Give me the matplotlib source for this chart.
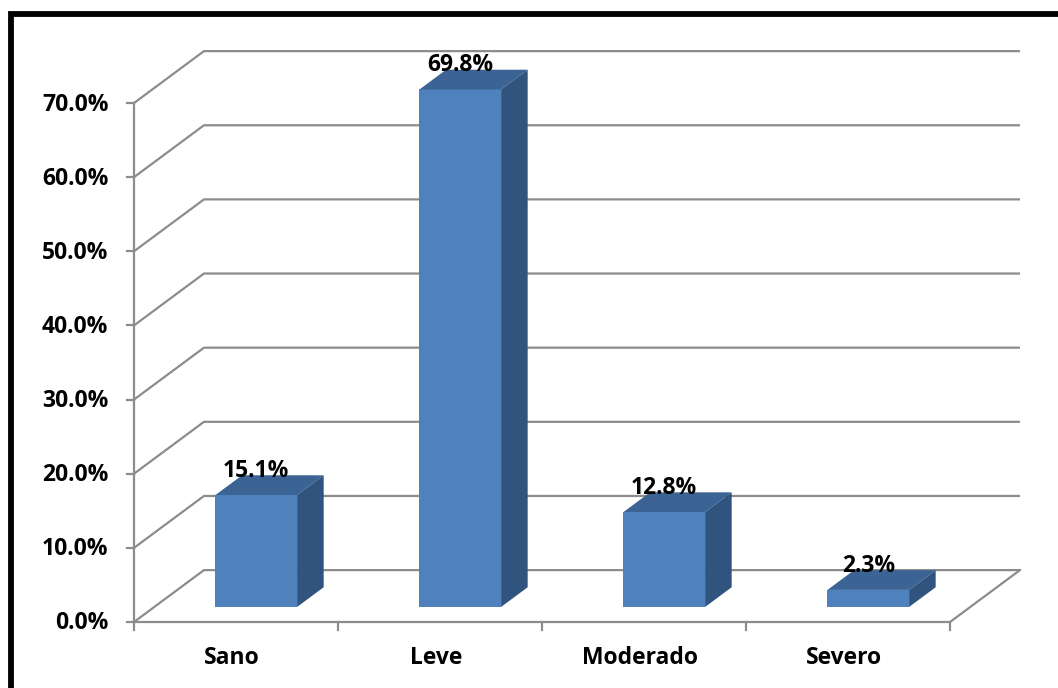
import matplotlib.pyplot as plt
from matplotlib.patches import Polygon
from matplotlib.lines import Line2D

categorias = ['Sano', 'Leve', 'Moderado', 'Severo']
porcentajes = [15.1, 69.8, 12.8, 2.3]
ticks_y = [0, 10, 20, 30, 40, 50, 60, 70]

# fake 3D: offset of the back wall in data units (x in categories, y in %)
DX, DY = 0.343, 7.0
# bars sit between these depth fractions
D0, D1 = 0.29, 0.67
ANCHO = 0.40

frente = '#4F81BD'
arriba = '#3B6393'
lado = '#31547F'
gris = '#8C8C8C'

plt.rcParams['font.family'] = ['Open Sans', 'DejaVu Sans']
FS = 16.5

fig = plt.figure(figsize=(10.58, 6.88), dpi=100)
ax = fig.add_axes([0, 0, 1, 1])
ax.set_xlim(-134 / 204, (1058 - 134) / 204)
ax.set_ylim(-66 / 7.414, (688 - 66) / 7.414)
ax.axis('off')

n = len(categorias)

# back wall gridlines + left wall diagonals
for v in ticks_y:
    ax.plot([0, DX, n + DX], [v, v + DY, v + DY], color=gris, lw=1.6,
            zorder=1, solid_capstyle='butt')
    ax.plot([-0.035, 0], [v, v], color=gris, lw=1.6, zorder=1)
    ax.text(-0.125, v - 0.2, f'{v:.1f}%', ha='right', va='center',
            fontsize=FS, fontweight='bold')

# floor edges and front axis
ax.plot([0, 0], [0, ticks_y[-1]], color=gris, lw=1.6, zorder=1)
ax.plot([0, n, n + DX], [0, 0, DY], color=gris, lw=1.6, zorder=1)
for i in range(n + 1):
    ax.plot([i, i], [0, -1.1], color=gris, lw=1.6, zorder=1)

# bars
for i, (cat, val) in enumerate(zip(categorias, porcentajes)):
    x0 = i + 0.5 - ANCHO / 2 + D0 * DX
    x1 = x0 + ANCHO
    y0 = D0 * DY
    ddx, ddy = (D1 - D0) * DX, (D1 - D0) * DY
    ax.add_patch(Polygon([(x0, y0), (x1, y0), (x1, y0 + val), (x0, y0 + val)],
                         closed=True, fc=frente, ec='none', zorder=3))
    ax.add_patch(Polygon([(x0, y0 + val), (x1, y0 + val),
                          (x1 + ddx, y0 + val + ddy), (x0 + ddx, y0 + val + ddy)],
                         closed=True, fc=arriba, ec='none', zorder=3))
    ax.add_patch(Polygon([(x1, y0), (x1 + ddx, y0 + ddy),
                          (x1 + ddx, y0 + val + ddy), (x1, y0 + val)],
                         closed=True, fc=lado, ec='none', zorder=3))
    ax.text((x0 + x1) / 2, y0 + val + ddy - 1.0, f'{val:.1f}%', ha='center',
            va='bottom', fontsize=FS, fontweight='bold', zorder=4)
    ax.text(i + 0.48, -4.9, cat, ha='center', va='center',
            fontsize=FS, fontweight='bold')

# outer frame (only left and top edges fall inside the image)
bx = 10.5 / 1058
by = 1 - 13.5 / 688
fig.add_artist(Line2D([bx, bx, 1.01], [-0.01, by, by], color='black',
                      lw=4.2, transform=fig.transFigure,
                      solid_joinstyle='miter'))

fig.savefig('out.png', dpi=100)
